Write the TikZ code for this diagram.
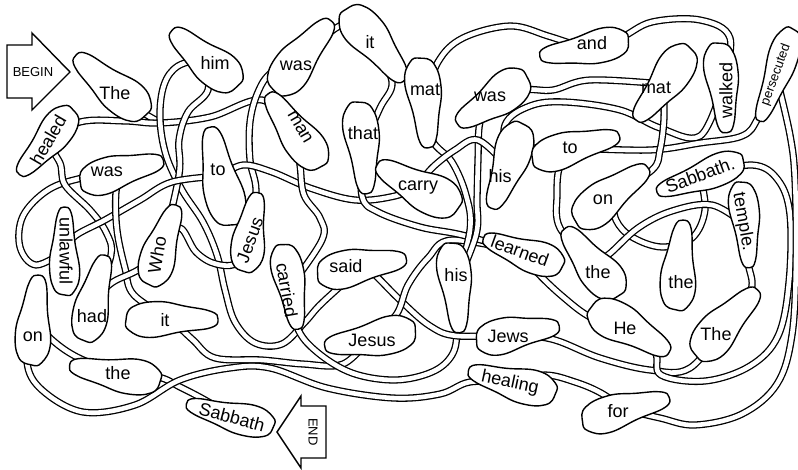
\documentclass[tikz,border=0pt]{standalone}
\usepackage{fontspec}
\setmainfont{Liberation Sans}
\pgfdeclarelayer{tubes}
\pgfsetlayers{tubes,main}
\tikzset{
  tube/.style={line width=1.3pt, double=white, double distance=4.6pt, line join=round},
  blobline/.style={draw, line width=1.4pt, fill=white, line join=round},
  word/.style={inner sep=0pt, font=\fontsize{18}{18}\selectfont},
  arrowbox/.style={draw, line width=1.4pt, fill=white},
}
% one bean shaped word cell: name, centre, direction of fat end, half length, half width
\newcommand\blob[5]{%
  \coordinate (#1) at (#2);
  \draw[blobline, shift={(#2)}, rotate=#3, xscale=#4, yscale=#5]
    plot[smooth cycle, tension=0.75] coordinates {(1,0) (0.85,0.7) (0.3,0.97) (-0.3,0.72)
      (-0.85,0.45) (-1,0.05) (-0.85,-0.4) (-0.2,-0.62) (0.5,-0.92) (0.93,-0.55)};
}
\newcommand\word[4]{\node[word, rotate=#3] (w#1) at (#2) {#4};}

\begin{document}
\begin{tikzpicture}[x=1pt, y=-1pt]
\useasboundingbox (0,0) rectangle (798,469);

% start and finish arrows
\draw[arrowbox] (7,45) -- (32,45) -- (32,33) -- (70,72) -- (32,110) -- (32,98) -- (7,98) -- cycle;
\node[word, font=\fontsize{13}{13}\selectfont] (begin) at (33,72) {BEGIN};
\draw[arrowbox] (326,406) -- (301,406) -- (301,396) -- (277,432) -- (301,468) -- (301,458) -- (326,458) -- cycle;
\node[word, font=\fontsize{13}{13}\selectfont, rotate=-90] (end) at (313,432) {END};

% word cells, left part
\blob{the1}{111,85}{-40}{46}{21}      \word{the1}{115,93}{0}{The}
\blob{healed}{46,142}{50}{42}{18}     \word{healed}{48,140}{60}{healed}
\blob{him}{205,58}{-40}{43}{21}       \word{him}{215,63}{0}{him}
\blob{was1}{122,172}{195}{43}{19}     \word{was1}{107,172}{0}{was}
\blob{to1}{221,176}{-78}{50}{21}      \word{to1}{218,170}{0}{to}
\blob{unlawful}{65,251}{-90}{44}{16}  \word{unlawful}{66,251}{-90}{unlawful}
\blob{who}{163,245}{-109}{42}{19}     \word{who}{157,255}{80}{Who}
\blob{jesus2}{251,232}{-100}{40}{18}  \word{jesus2}{250,240}{70}{Jesus}
\blob{had}{95,298}{-104}{44}{19}      \word{had}{92,316}{0}{had}
\blob{it2}{172,320}{180}{46}{19}      \word{it2}{165,320}{0}{it}
\blob{on2}{35,320}{-95}{45}{19}       \word{on2}{33,337}{0}{on}
\blob{the5}{115,373}{-10}{46}{19}     \word{the5}{118,373}{0}{the}
\blob{sabb2}{230,415}{-15}{45}{17}    \word{sabb2}{232,417}{-15}{Sabbath}

% word cells, middle part
\blob{was2}{303,56}{231}{45}{21}      \word{was2}{296,66}{0}{was}
\blob{it1}{375,45}{129}{46}{21}       \word{it1}{370,42}{0}{it}
\blob{man}{295,130}{-54}{45}{20}      \word{man}{300,127}{-60}{man}
\blob{that}{362,148}{95}{46}{19}      \word{that}{363,133}{0}{that}
\blob{mat1}{424,103}{95}{45}{19}      \word{mat1}{425,90}{0}{mat}
\blob{was3}{492,100}{34}{42}{21}      \word{was3}{490,97}{0}{was}
\blob{carry}{418,186}{-28}{46}{22}    \word{carry}{418,188}{0}{carry}
\blob{his1}{507,166}{70}{45}{20}      \word{his1}{500,176}{0}{his}
\blob{carried}{290,287}{100}{43}{17}  \word{carried}{287,290}{-80}{carried}
\blob{said}{362,267}{190}{45}{20}     \word{said}{346,266}{0}{said}
\blob{jesus1}{370,338}{10}{46}{20}    \word{jesus1}{372,340}{0}{Jesus}
\blob{his2}{455,288}{95}{45}{18}      \word{his2}{456,275}{0}{his}
\blob{learned}{523,252}{-20}{42}{18}  \word{learned}{520,251}{-20}{learned}
\blob{jews}{518,334}{190}{42}{19}     \word{jews}{508,336}{0}{Jews}
\blob{healing}{512,382}{-15}{45}{19}  \word{healing}{510,383}{-12}{healing}

% word cells, right part
\blob{and}{584,48}{10}{45}{18}        \word{and}{592,43}{0}{and}
\blob{mat2}{663,84}{53}{45}{20}       \word{mat2}{656,88}{0}{mat}
\blob{walked}{722,88}{95}{45}{18}     \word{walked}{726,90}{90}{walked}
\blob{persec}{776,75}{70}{49}{16}
\node[word, font=\fontsize{13}{13}\selectfont, rotate=70] (wpersec) at (776,75) {persecuted};
\blob{to2}{576,148}{195}{45}{19}      \word{to2}{570,148}{0}{to}
\blob{sabb1}{700,176}{20}{46}{17}     \word{sabb1}{700,175}{20}{Sabbath.}
\blob{on1}{612,195}{217}{45}{21}      \word{on1}{603,200}{0}{on}
\blob{temple}{745,225}{95}{43}{16}    \word{temple}{743,222}{-80}{temple.}
\blob{the2}{592,262}{-51}{43}{21}     \word{the2}{598,272}{0}{the}
\blob{the3}{680,265}{-95}{45}{19}     \word{the3}{681,282}{0}{the}
\blob{he}{630,330}{150}{45}{21}       \word{he}{625,328}{0}{He}
\blob{the4}{727,323}{227}{45}{21}     \word{the4}{716,334}{0}{The}
\blob{for}{626,410}{195}{45}{19}      \word{for}{618,411}{0}{for}

\begin{pgfonlayer}{tubes}
% left tangle
\draw[tube] plot[smooth, tension=0.6] coordinates {(the1) (140,110) (152,118) (160,122)};
\draw[tube] plot[smooth, tension=0.6] coordinates {(healed) (80,122) (125,121) (160,123) (210,117) (262,100) (man)};
\draw[tube] plot[smooth, tension=0.6] coordinates {(him) (178,66) (164,85) (160,118) (166,155) (182,190) (203,222) (217,255) (225,290) (235,322) (255,343) (282,344) (305,322) (322,303) (said)};
\draw[tube] plot[smooth, tension=0.6] coordinates {(him) (208,90) (188,112) (179,140) (179,175) (who)};
\draw[tube] plot[smooth, tension=0.6] coordinates {(was2) (272,72) (258,92) (250,122) (250,160) (256,190) (jesus2)};
\draw[tube] plot[smooth, tension=0.6] coordinates {(was2) (336,28) (352,26) (it1)};
\draw[tube] plot[smooth, tension=0.6] coordinates {(it1) (392,82) (380,108) (that)};
\draw[tube] plot[smooth, tension=0.6] coordinates {(was1) (82,178) (48,190) (23,216) (20,247) (36,265) (unlawful)};
\draw[tube] plot[smooth, tension=0.6] coordinates {(healed) (60,163) (65,185) (90,210) (106,232) (111,255) (had)};
\draw[tube] plot[smooth, tension=0.6] coordinates {(unlawful) (75,236) (105,220) (140,200) (172,182) (to1)};
\draw[tube] plot[smooth, tension=0.6] coordinates {(was1) (116,192) (117,230) (125,268) (134,295) (it2)};
\draw[tube] plot[smooth, tension=0.6] coordinates {(had) (113,282) (141,268) (who)};
\draw[tube] plot[smooth, tension=0.6] coordinates {(who) (180,228) (196,252) (216,264) (238,262) (jesus2)};
\draw[tube] plot[smooth, tension=0.6] coordinates {(to1) (243,165) (272,172) (310,188) (355,200) (395,196) (carry)};
\draw[tube] plot[smooth, tension=0.6] coordinates {(man) (300,165) (304,195) (320,218) (322,240) (carried)};
\draw[tube] plot[smooth, tension=0.6] coordinates {(on2) (50,338) (75,356) (the5)};
\draw[tube] plot[smooth, tension=0.6] coordinates {(the5) (158,377) (180,387) (205,400) (sabb2)};
\draw[tube] plot[smooth, tension=0.6] coordinates {(on2) (27,362) (42,390) (83,412) (135,405) (180,380) (230,368) (270,368) (327,388) (393,398) (440,394) (470,382) (healing)};
\draw[tube] plot[smooth, tension=0.6] coordinates {(it2) (193,340) (215,358) (262,360) (303,364) (343,364) (jesus1)};
% middle tangle
\draw[tube] plot[smooth, tension=0.6] coordinates {(carried) (297,327) (317,352) (352,373) (395,380) (432,372) (452,355) (457,330) (his2)};
\draw[tube] plot[smooth, tension=0.6] coordinates {(said) (372,272) (400,300) (430,326) (458,336) (jews)};
\draw[tube] plot[smooth, tension=0.6] coordinates {(jesus1) (396,315) (408,285) (428,258) (452,240) (learned)};
\draw[tube] plot[smooth, tension=0.6] coordinates {(that) (362,196) (378,212) (420,227) (462,235) (learned)};
\draw[tube] plot[smooth, tension=0.6] coordinates {(mat1) (432,140) (452,162) (466,195) (470,230) (his2)};
\draw[tube] plot[smooth, tension=0.6] coordinates {(was3) (480,122) (478,160) (477,200) (476,235) (his2)};
\draw[tube] plot[smooth, tension=0.6] coordinates {(carry) (432,168) (455,150) (478,140) (his1)};
\draw[tube] plot[smooth, tension=0.6] coordinates {(his1) (505,125) (530,106) (565,102) (620,110) (660,128) (700,136) (walked)};
\draw[tube] plot[smooth, tension=0.6] coordinates {(was3) (525,90) (553,90) (590,80) (mat2)};
\draw[tube] plot[smooth, tension=0.6] coordinates {(mat1) (438,62) (463,38) (510,26) (548,36) (and)};
\draw[tube] plot[smooth, tension=0.6] coordinates {(and) (620,38) (652,22) (700,20) (730,38) (walked)};
% right tangle
\draw[tube] plot[smooth, tension=0.6] coordinates {(persec) (758,118) (742,136) (700,143) (650,150) (to2)};
\draw[tube] plot[smooth, tension=0.6] coordinates {(his1) (526,150) (545,148) (to2)};
\draw[tube] plot[smooth, tension=0.6] coordinates {(mat2) (664,118) (660,150) (652,170) (on1)};
\draw[tube] plot[smooth, tension=0.6] coordinates {(to2) (560,166) (557,195) (560,228) (the2)};
\draw[tube] plot[smooth, tension=0.6] coordinates {(on1) (616,220) (632,237) (662,247) (692,238) (705,210) (sabb1)};
\draw[tube] plot[smooth, tension=0.6] coordinates {(the2) (608,255) (638,228) (672,211) (712,205) (temple)};
\draw[tube] plot[smooth, tension=0.6] coordinates {(temple) (748,262) (751,290) (the4)};
\draw[tube] plot[smooth, tension=0.6] coordinates {(learned) (535,270) (562,296) (592,318) (he)};
\draw[tube] plot[smooth, tension=0.6] coordinates {(jews) (555,340) (600,358) (650,370) (690,368) (the4)};
\draw[tube] plot[smooth, tension=0.6] coordinates {(he) (655,352) (661,375) (705,381) (750,366) (778,336) (789,282) (790,215) (778,180) (752,165) (sabb1)};
\draw[tube] plot[smooth, tension=0.6] coordinates {(for) (660,418) (695,425) (742,414) (777,384) (792,335) (796,260) (795,180) (790,135) (persec)};
\draw[tube] plot[smooth, tension=0.6] coordinates {(healing) (545,375) (575,382) (601,393) (for)};
\end{pgfonlayer}
\end{tikzpicture}
\end{document}
